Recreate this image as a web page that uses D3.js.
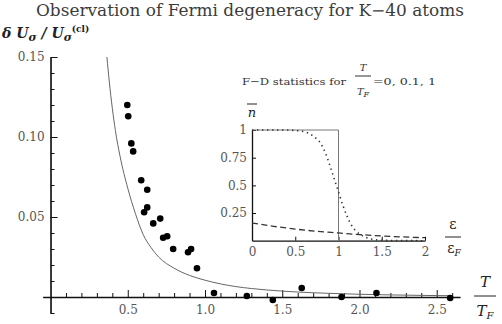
<!DOCTYPE html>
<html>
<head>
<meta charset="utf-8">
<script src="https://cdn.jsdelivr.net/npm/d3@7"></script>
<style>
  body { margin: 0; background: #fff; }
  svg { display: block; }
  .tick text { font-family: "DejaVu Serif", serif; fill: #555; }
</style>
</head>
<body>
<svg id="chart" width="502" height="324"></svg>
<script>
// measured points (T/T_F, dU/U_cl)
const dotT = [0.497, 0.503, 0.523, 0.535, 0.587, 0.626, 0.626, 0.606, 0.665, 0.710, 0.729, 0.755,
              0.794, 0.890, 0.910, 0.948, 1.058, 1.271, 1.439, 1.626, 1.884, 2.110, 2.587];
const dotV = [0.120, 0.113, 0.096, 0.091, 0.073, 0.067, 0.056, 0.053, 0.046, 0.049, 0.037, 0.038,
              0.030, 0.028, 0.030, 0.018, 0.0025, 0.0006, -0.0019, 0.0056, 0.0000, 0.0025, -0.0006];

// theory curve
const curveT = [0.365, 0.38, 0.40, 0.42, 0.45, 0.50, 0.55, 0.60, 0.65, 0.70, 0.80, 0.90, 1.00,
                1.10, 1.20, 1.30, 1.40, 1.60, 1.80, 2.00, 2.20, 2.40, 2.60];
const curveV = [0.150, 0.135, 0.118, 0.104, 0.088, 0.068, 0.052, 0.039, 0.031, 0.025, 0.018, 0.0135, 0.0105,
                0.0082, 0.0065, 0.0053, 0.0044, 0.0031, 0.0023, 0.0017, 0.0013, 0.0010, 0.0008];

const xMajor = [0.5, 1.0, 1.5, 2.0, 2.5];
const yMajor = [0.05, 0.10, 0.15];

// inset: Fermi-Dirac occupation
const fdE = [0, 0.2, 0.4, 0.5, 0.6, 0.7, 0.8, 0.85, 0.9, 0.95, 1.0, 1.05, 1.1, 1.15, 1.2, 1.3, 1.4, 1.5, 1.75, 2.0];
const fdN01 = [1, 1, 1, 0.995, 0.985, 0.95, 0.87, 0.79, 0.68, 0.56, 0.44, 0.32, 0.22, 0.14, 0.09, 0.035, 0.012, 0.004, 0.001, 0];
const fdE1 = [0, 0.25, 0.5, 0.75, 1.0, 1.25, 1.5, 1.75, 2.0];
const fdN1 = [0.16, 0.13, 0.105, 0.085, 0.07, 0.055, 0.043, 0.034, 0.027];
const stepE = [0, 1, 1, 2];
const stepN = [1, 1, 0, 0];
const insetXTicks = [0, 0.5, 1, 1.5, 2];
const insetYTicks = [0.25, 0.5, 0.75, 1];

const svg = d3.select("#chart");

const x = d3.scaleLinear().domain([-0.05, 2.65]).range([42.8, 459.9]);
const y = d3.scaleLinear().domain([-0.01, 0.15]).range([313, 57]);

const serif = '"DejaVu Serif", serif';

// title
svg.append("text")
  .attr("x", 250).attr("y", 16)
  .attr("text-anchor", "middle")
  .attr("font-family", serif).attr("font-size", 16)
  .attr("fill", "#3c3c3c")
  .attr("textLength", 428).attr("lengthAdjust", "spacingAndGlyphs")
  .text("Observation of Fermi degeneracy for K\u221240 atoms");

// y label
const yl = svg.append("text")
  .attr("x", 2).attr("y", 38)
  .attr("font-family", serif).attr("font-size", 14)
  .attr("font-style", "italic").attr("font-weight", "bold")
  .attr("fill", "#222");
yl.append("tspan").text("\u03b4 U");
yl.append("tspan").attr("dy", 3).attr("font-size", 11).text("\u03c3");
yl.append("tspan").attr("dy", -3).text(" / U");
yl.append("tspan").attr("dy", 3).attr("font-size", 11).text("\u03c3");
yl.append("tspan").attr("dy", -9).attr("font-size", 9).attr("font-style", "normal").text("(cl)");

// x axis, minor then major
const xMinor = d3.range(1, 27).map(d => d / 10).filter(d => !xMajor.some(m => Math.abs(m - d) < 1e-6));
svg.append("g")
  .attr("transform", `translate(0,${y(0)})`)
  .call(d3.axisBottom(x).tickValues(xMinor).tickSize(-4).tickSizeOuter(0).tickFormat(""))
  .call(g => g.selectAll("line, path").attr("stroke", "#111"));
svg.append("g")
  .attr("transform", `translate(0,${y(0)})`)
  .call(d3.axisBottom(x).tickValues(xMajor).tickSize(-7).tickSizeOuter(0).tickPadding(8).tickFormat(d3.format(".1f")))
  .call(g => g.select(".domain").attr("stroke", "#111").attr("stroke-width", 1.3))
  .call(g => g.selectAll(".tick line").attr("stroke", "#111"))
  .call(g => g.selectAll(".tick text").attr("font-size", 12));

// y axis
const yMinor = d3.range(-1, 15).map(d => d / 100).filter(d => !yMajor.some(m => Math.abs(m - d) < 1e-6));
svg.append("g")
  .attr("transform", `translate(${x(0)},0)`)
  .call(d3.axisLeft(y).tickValues(yMinor).tickSize(-4).tickSizeOuter(0).tickFormat(""))
  .call(g => g.selectAll("line, path").attr("stroke", "#111"));
svg.append("g")
  .attr("transform", `translate(${x(0)},0)`)
  .call(d3.axisLeft(y).tickValues(yMajor).tickSize(-7).tickSizeOuter(0).tickPadding(6).tickFormat(d3.format(".2f")))
  .call(g => g.select(".domain").attr("stroke", "#111").attr("stroke-width", 1.3))
  .call(g => g.selectAll(".tick line").attr("stroke", "#111"))
  .call(g => g.selectAll(".tick text").attr("font-size", 12));

// x label T / T_F
const fx = 485;
svg.append("text").attr("x", fx).attr("y", 287).attr("text-anchor", "middle")
  .attr("font-family", serif).attr("font-size", 15).attr("font-style", "italic").attr("fill", "#222").text("T");
svg.append("line").attr("x1", 474).attr("x2", 496).attr("y1", 296).attr("y2", 296).attr("stroke", "#222");
const tf = svg.append("text").attr("x", fx).attr("y", 316).attr("text-anchor", "middle")
  .attr("font-family", serif).attr("font-size", 15).attr("font-style", "italic").attr("fill", "#222");
tf.append("tspan").text("T");
tf.append("tspan").attr("dy", 3).attr("font-size", 10).text("F");

// theory curve
svg.append("clipPath").attr("id", "plotclip")
  .append("rect").attr("x", 42).attr("y", 57).attr("width", 420).attr("height", 260);
const line = d3.line().x(d => x(d[0])).y(d => y(d[1])).curve(d3.curveMonotoneX);
svg.append("path")
  .datum(d3.zip(curveT, curveV))
  .attr("clip-path", "url(#plotclip)")
  .attr("d", line)
  .attr("fill", "none").attr("stroke", "#666").attr("stroke-width", 1);

// data points
svg.append("g").selectAll("circle")
  .data(d3.zip(dotT, dotV))
  .join("circle")
  .attr("cx", d => x(d[0])).attr("cy", d => y(d[1]))
  .attr("r", 3.3).attr("fill", "#000");

// ---- inset ----
const xi = d3.scaleLinear().domain([0, 2]).range([252, 425]);
const yi = d3.scaleLinear().domain([0, 1]).range([240.7, 130]);

svg.append("g")
  .attr("transform", `translate(0,${yi(0)})`)
  .call(d3.axisBottom(xi).tickValues(insetXTicks).tickSize(-4).tickSizeOuter(0).tickPadding(7).tickFormat(d3.format("~g")))
  .call(g => g.selectAll("line, path").attr("stroke", "#111"))
  .call(g => g.select(".domain").attr("stroke-width", 1.3))
  .call(g => g.selectAll(".tick text").attr("font-size", 12));
svg.append("g")
  .attr("transform", `translate(${xi(0)},0)`)
  .call(d3.axisLeft(yi).tickValues(insetYTicks).tickSize(-4).tickSizeOuter(0).tickPadding(5).tickFormat(d3.format("~g")))
  .call(g => g.selectAll("line, path").attr("stroke", "#111"))
  .call(g => g.select(".domain").attr("stroke-width", 1.3))
  .call(g => g.selectAll(".tick text").attr("font-size", 12));

const iline = d3.line().x(d => xi(d[0])).y(d => yi(d[1]));
svg.append("path").datum(d3.zip(stepE, stepN)).attr("d", iline)
  .attr("fill", "none").attr("stroke", "#777").attr("stroke-width", 1);
svg.append("path").datum(d3.zip(fdE, fdN01)).attr("d", iline.curve(d3.curveMonotoneX))
  .attr("fill", "none").attr("stroke", "#333").attr("stroke-width", 1.6)
  .attr("stroke-dasharray", "1.4,3.6");
svg.append("path").datum(d3.zip(fdE1, fdN1)).attr("d", iline.curve(d3.curveMonotoneX))
  .attr("fill", "none").attr("stroke", "#333").attr("stroke-width", 1.3)
  .attr("stroke-dasharray", "6,3.5");

// inset axis labels
svg.append("text").attr("x", 252).attr("y", 117).attr("text-anchor", "middle")
  .attr("font-family", serif).attr("font-size", 13).attr("font-style", "italic").attr("fill", "#222").text("n");
svg.append("line").attr("x1", 247).attr("x2", 257).attr("y1", 104).attr("y2", 104).attr("stroke", "#222");

svg.append("text").attr("x", 453).attr("y", 229).attr("text-anchor", "middle")
  .attr("font-family", serif).attr("font-size", 14).attr("fill", "#222").text("\u03b5");
svg.append("line").attr("x1", 445).attr("x2", 461).attr("y1", 237).attr("y2", 237).attr("stroke", "#222");
const ef = svg.append("text").attr("x", 454).attr("y", 253).attr("text-anchor", "middle")
  .attr("font-family", serif).attr("font-size", 14).attr("fill", "#222");
ef.append("tspan").text("\u03b5");
ef.append("tspan").attr("dy", 3).attr("font-size", 9).attr("font-style", "italic").text("F");

// annotation
svg.append("text").attr("x", 242).attr("y", 85)
  .attr("font-family", serif).attr("font-size", 10).attr("fill", "#333")
  .attr("textLength", 104).attr("lengthAdjust", "spacingAndGlyphs")
  .text("F\u2212D statistics for");
svg.append("text").attr("x", 363).attr("y", 71).attr("text-anchor", "middle")
  .attr("font-family", serif).attr("font-size", 10).attr("font-style", "italic").attr("fill", "#333").text("T");
svg.append("line").attr("x1", 355).attr("x2", 371).attr("y1", 76).attr("y2", 76).attr("stroke", "#333");
const an = svg.append("text").attr("x", 363).attr("y", 95).attr("text-anchor", "middle")
  .attr("font-family", serif).attr("font-size", 10).attr("font-style", "italic").attr("fill", "#333");
an.append("tspan").text("T");
an.append("tspan").attr("dy", 2).attr("font-size", 8).text("F");
svg.append("text").attr("x", 373).attr("y", 85)
  .attr("font-family", serif).attr("font-size", 10).attr("fill", "#333")
  .attr("textLength", 63).attr("lengthAdjust", "spacingAndGlyphs")
  .text("=0, 0.1, 1");
</script>
</body>
</html>
